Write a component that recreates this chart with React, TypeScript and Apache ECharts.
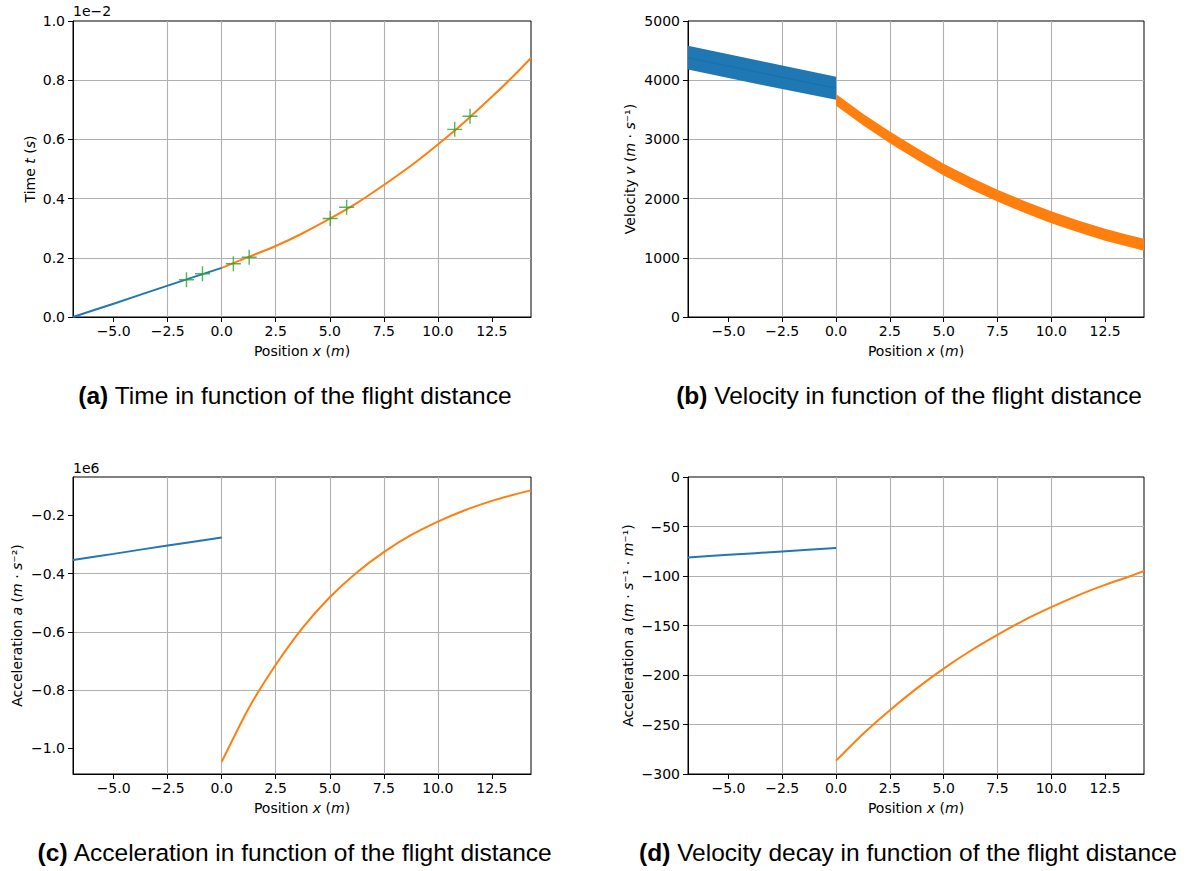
import React, { useEffect, useRef } from 'react';
import * as echarts from 'echarts';

// ---------- shared axis ----------
const xTicks = [-5, -2.5, 0, 2.5, 5, 7.5, 10, 12.5];
const xMin = -6.88;
const xMax = 14.31;

// ---------- (a) time (unit 1e-2 s) ----------
const timeBlueX = [-6.88, -5, -2.5, 0];
const timeBlueY = [0, 0.045, 0.106, 0.166];
const timeOrangeX = [0, 1.25, 2.5, 3.75, 5, 6.25, 7.5, 8.75, 10, 11.25, 12.5, 13.5, 14.31];
const timeOrangeY = [0.166, 0.203, 0.24, 0.283, 0.332, 0.385, 0.446, 0.511, 0.583, 0.66, 0.744, 0.814, 0.875];
const measX = [-1.63, -0.89, 0.54, 1.27, 5.02, 5.78, 10.78, 11.49];
const measY = [0.126, 0.146, 0.18, 0.202, 0.333, 0.371, 0.634, 0.678];

// ---------- (b) velocity bands (m/s) ----------
const velBlueX = [-6.88, -3.5, 0];
const velBlueUpper = [4580, 4325, 4060];
const velBlueLower = [4180, 3925, 3670];
const velBlueMid = [4380, 4125, 3865];
const velOrangeX = [0, 1.25, 2.5, 3.75, 5, 6.25, 7.5, 8.75, 10, 11.25, 12.5, 13.5, 14.31];
const velOrangeUpper = [3765, 3435, 3135, 2855, 2590, 2360, 2150, 1960, 1785, 1630, 1490, 1395, 1320];
const velOrangeLower = [3570, 3240, 2935, 2655, 2390, 2160, 1950, 1760, 1585, 1430, 1290, 1195, 1120];

// ---------- (c) acceleration (unit 1e6 m/s^2) ----------
const accBlueX = [-6.88, -5, -2.5, 0];
const accBlueY = [-0.353, -0.332, -0.303, -0.276];
const accOrangeX = [0, 1.25, 2.5, 3.75, 5, 6.25, 7.5, 8.75, 10, 11.25, 12.5, 13.5, 14.31];
const accOrangeY = [-1.046, -0.862, -0.713, -0.585, -0.481, -0.396, -0.326, -0.268, -0.221, -0.182, -0.15, -0.129, -0.114];
const accTicks = [-1.0, -0.8, -0.6, -0.4, -0.2];

// ---------- (d) velocity decay ----------
const decBlueX = [-6.88, -5, -2.5, 0];
const decBlueY = [-81.2, -78.6, -75.2, -71.8];
const decOrangeX = [0, 1.25, 2.5, 3.75, 5, 6.25, 7.5, 8.75, 10, 11.25, 12.5, 13.5, 14.31];
const decOrangeY = [-286.5, -259.5, -235.5, -213.5, -193.5, -175.5, -159.5, -144.5, -131.5, -119.5, -109, -101.5, -95];

const captions = [
  ['(a)', 'Time in function of the flight distance'],
  ['(b)', 'Velocity in function of the flight distance'],
  ['(c)', 'Acceleration in function of the flight distance'],
  ['(d)', 'Velocity decay in function of the flight distance'],
];

const BLUE = '#1f77b4';
const ORANGE = '#ff7f0e';
const GREEN = '#2ca02c';
const FONT = 'DejaVu Sans';
const CAP_FONT = 'Liberation Sans';
const FS = 14;
const CAP_FS = 24.5;

const zip = (xs: number[], ys: number[]) => xs.map((x, i) => [x, ys[i]]);
const minusFmt = (v: number, d: number) => (v < -1e-12 ? '\u2212' : '') + Math.abs(v).toFixed(d);

const grids = [
  { left: 73, top: 21, width: 458, height: 296 },
  { left: 688, top: 21, width: 456, height: 296 },
  { left: 73, top: 477, width: 458, height: 297 },
  { left: 688, top: 477, width: 456, height: 297 },
];

const italicRich = {
  i: { fontStyle: 'italic', fontFamily: FONT, fontSize: FS, color: '#000' },
};

function xAxis(i: number) {
  return {
    type: 'value',
    gridIndex: i,
    min: xMin,
    max: xMax,
    name: 'Position {i|x} ({i|m})',
    nameLocation: 'middle',
    nameGap: 27,
    nameTextStyle: { fontFamily: FONT, fontSize: FS, color: '#000', rich: italicRich },
    axisLine: { show: true, onZero: false, lineStyle: { color: '#000', width: 1 } },
    axisTick: { show: true, length: 5, customValues: xTicks, lineStyle: { color: '#000', width: 1 } },
    axisLabel: {
      customValues: xTicks,
      formatter: (v: number) => minusFmt(v, 1),
      fontFamily: FONT,
      fontSize: FS,
      color: '#000',
      margin: 7,
    },
    splitLine: { show: true, showMinLine: false, showMaxLine: false, lineStyle: { color: '#b0b0b0', width: 1.1 } },
  };
}

function yBase(i: number, name: string, gap: number) {
  return {
    type: 'value',
    gridIndex: i,
    name,
    nameLocation: 'middle',
    nameRotate: 90,
    nameGap: gap,
    nameTextStyle: { fontFamily: FONT, fontSize: FS, color: '#000', rich: italicRich },
    axisLine: { show: true, onZero: false, lineStyle: { color: '#000', width: 1 } },
    axisTick: { show: true, length: 5, lineStyle: { color: '#000', width: 1 } },
    axisLabel: { fontFamily: FONT, fontSize: FS, color: '#000', margin: 8 },
    splitLine: { show: true, showMinLine: false, showMaxLine: false, lineStyle: { color: '#b0b0b0', width: 1.1 } },
  };
}

function band(axis: number, xs: number[], up: number[], lo: number[], color: string) {
  return {
    type: 'custom',
    xAxisIndex: axis,
    yAxisIndex: axis,
    silent: true,
    data: [[xs[0], up[0]]],
    renderItem: (_p: any, api: any) => {
      const top = xs.map((x, k) => api.coord([x, up[k]]));
      const bot = xs.map((x, k) => api.coord([x, lo[k]])).reverse();
      return { type: 'polygon', shape: { points: top.concat(bot), smooth: 0 }, style: { fill: color } };
    },
  };
}

function line(axis: number, xs: number[], ys: number[], color: string, width = 2) {
  return {
    type: 'line',
    xAxisIndex: axis,
    yAxisIndex: axis,
    data: zip(xs, ys),
    showSymbol: false,
    smooth: 0.2,
    silent: true,
    lineStyle: { color, width },
    itemStyle: { color },
  };
}

export default function App() {
  const ref = useRef<HTMLDivElement>(null);
  useEffect(() => {
    if (!ref.current) return;
    const chart = echarts.init(ref.current, undefined, { renderer: 'svg' });

    const yA = yBase(0, 'Time {i|t} ({i|s})', 36) as any;
    yA.min = 0; yA.max = 1; yA.interval = 0.2;
    yA.axisLabel.formatter = (v: number) => minusFmt(v, 1);

    const yB = yBase(1, 'Velocity {i|v} ({i|m} · {i|s}\u207B\u00B9)', 51) as any;
    yB.min = 0; yB.max = 5000; yB.interval = 1000;
    yB.axisLabel.formatter = (v: number) => String(Math.round(v));

    const yC = yBase(2, 'Acceleration {i|a} ({i|m} · {i|s}\u207B\u00B2)', 49) as any;
    yC.min = -1.088; yC.max = -0.068;
    yC.axisTick.customValues = accTicks;
    yC.axisLabel.customValues = accTicks;
    yC.axisLabel.formatter = (v: number) => minusFmt(v, 1);

    const yD = yBase(3, 'Acceleration {i|a} ({i|m} · {i|s}\u207B\u00B9 · {i|m}\u207B\u00B9)', 53) as any;
    yD.min = -300; yD.max = 0; yD.interval = 50;
    yD.axisLabel.formatter = (v: number) => minusFmt(v, 0);

    const capPos = [
      [295, 395],
      [909, 395],
      [295, 852],
      [908, 852],
    ];

    const graphics: any[] = captions.map((c, k) => ({
      type: 'text',
      x: capPos[k][0],
      y: capPos[k][1],
      style: {
        text: `{b|${c[0]}}{n| ${c[1]}}`,
        rich: {
          b: { fontWeight: 'bold', fontSize: CAP_FS, fontFamily: CAP_FONT, fill: '#000' },
          n: { fontSize: CAP_FS, fontFamily: CAP_FONT, fill: '#000' },
        },
        fontSize: CAP_FS,
        fontFamily: CAP_FONT,
        fill: '#000',
        align: 'center',
        verticalAlign: 'middle',
        textAlign: 'center',
        textVerticalAlign: 'middle',
      },
    }));
    graphics.push({
      type: 'text',
      x: 73,
      y: 11,
      style: { text: '1e\u22122', fontSize: FS, fontFamily: FONT, fill: '#000', align: 'left', verticalAlign: 'middle', textAlign: 'left', textVerticalAlign: 'middle' },
    });
    graphics.push({
      type: 'text',
      x: 73,
      y: 468,
      style: { text: '1e6', fontSize: FS, fontFamily: FONT, fill: '#000', align: 'left', verticalAlign: 'middle', textAlign: 'left', textVerticalAlign: 'middle' },
    });

    chart.setOption({
      animation: false,
      backgroundColor: '#fff',
      grid: grids.map((g) => ({ ...g, show: true, borderColor: '#000', borderWidth: 1, backgroundColor: 'transparent', containLabel: false })),
      xAxis: [0, 1, 2, 3].map(xAxis),
      yAxis: [yA, yB, yC, yD],
      graphic: graphics,
      series: [
        line(0, timeBlueX, timeBlueY, BLUE),
        line(0, timeOrangeX, timeOrangeY, ORANGE),
        {
          type: 'scatter',
          xAxisIndex: 0,
          yAxisIndex: 0,
          data: zip(measX, measY),
          symbol: 'path://M5,0 L5,10 M0,5 L10,5',
          symbolSize: 15,
          silent: true,
          itemStyle: { color: 'rgba(0,0,0,0)', borderColor: GREEN, borderWidth: 1.4 },
          z: 5,
        },
        band(1, velBlueX, velBlueUpper, velBlueLower, BLUE),
        line(1, velBlueX, velBlueMid, '#1c70ab', 1.5),
        band(1, velOrangeX, velOrangeUpper, velOrangeLower, ORANGE),
        line(2, accBlueX, accBlueY, BLUE),
        line(2, accOrangeX, accOrangeY, ORANGE),
        line(3, decBlueX, decBlueY, BLUE),
        line(3, decOrangeX, decOrangeY, ORANGE),
      ],
    } as any);

    return () => chart.dispose();
  }, []);

  return (
    <div
      ref={ref}
      style={{ position: 'absolute', left: 0, top: 0, width: 1185, height: 871, background: '#fff' }}
    />
  );
}
